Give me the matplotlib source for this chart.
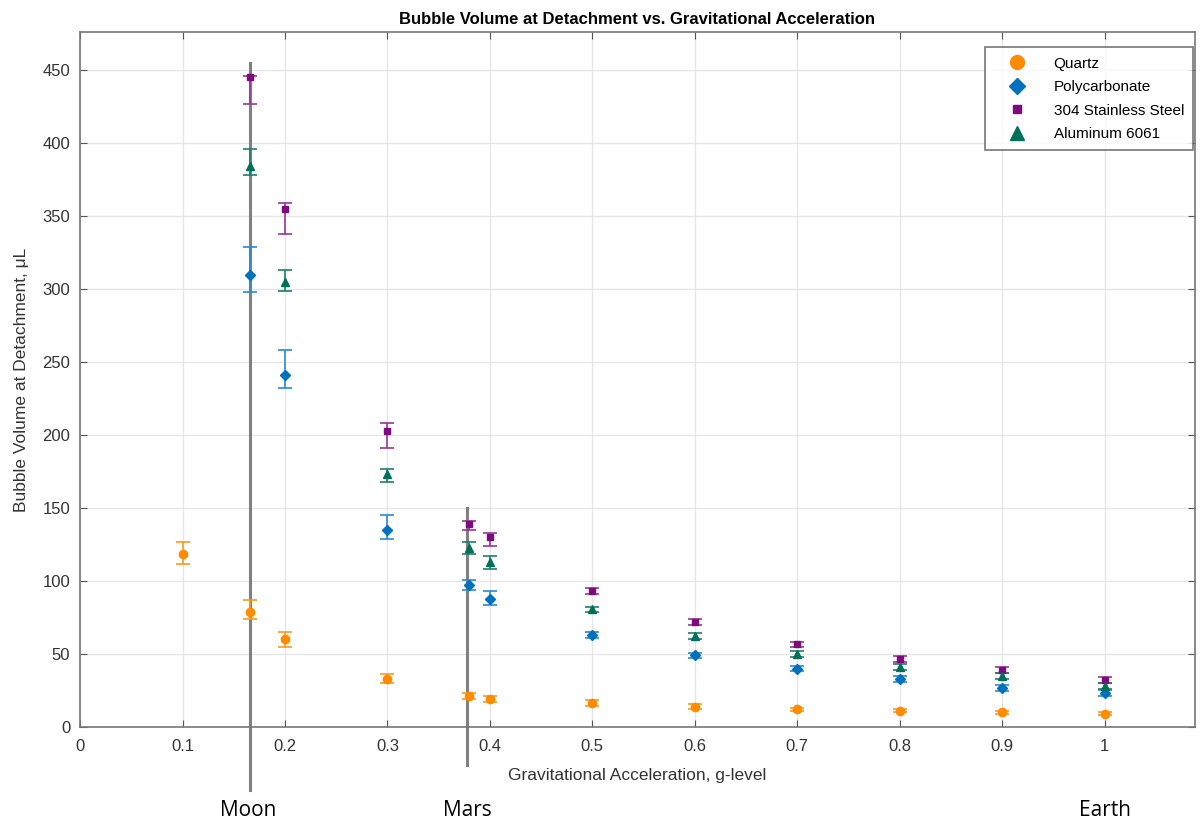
import numpy as np
import matplotlib.pyplot as plt
from matplotlib.lines import Line2D

# g-levels tested
g_level = [0.1, 0.166, 0.2, 0.3, 0.38, 0.4, 0.5, 0.6, 0.7, 0.8, 0.9, 1.0]

# bubble volume (uL) and error bars (lower, upper)
quartz = [118.5, 79, 60, 33, 21, 19, 16.5, 14, 12, 11, 10, 9]
quartz_lo = [7, 5, 5, 3, 2, 2, 2, 1.5, 1, 1, 1, 1]
quartz_hi = [8, 8, 5, 3, 2, 2, 2, 1.5, 1, 1, 1, 1]

g_poly = [0.166, 0.2, 0.3, 0.38, 0.4, 0.5, 0.6, 0.7, 0.8, 0.9, 1.0]
poly = [310, 241, 135, 97, 88, 63, 49, 40, 33, 26.5, 23]
poly_lo = [12, 9, 6, 3, 4.5, 2, 2, 2, 2, 2, 2]
poly_hi = [19, 17, 10, 4, 5, 2, 2, 2, 2, 2, 2]

steel = [445, 355, 203, 139, 130, 93, 72, 56.5, 46.5, 39, 32]
steel_lo = [18, 17, 12, 4, 6, 2, 2, 2, 2, 2, 2]
steel_hi = [1, 4, 5, 2, 3, 2, 2, 2, 2, 2, 2]

alum = [384, 305, 173, 122.5, 113, 80.5, 62.5, 50, 41, 35, 28]
alum_lo = [6, 6, 5, 4, 5, 2, 2, 2, 2, 2, 2]
alum_hi = [12, 8, 4, 4, 4, 2, 2, 2, 2, 2, 2]

names = ['Quartz', 'Polycarbonate', '304 Stainless Steel', 'Aluminum 6061']

plt.rcParams['font.family'] = ['Liberation Sans', 'DejaVu Sans']

fig = plt.figure(figsize=(12.02, 8.26), dpi=100)
ax = fig.add_axes([0.0666, 0.1199, 0.9274, 0.8411])

c_q = '#ff8c00'
c_p = '#0072bd'
c_s = '#7e0a7e'
c_a = '#00705a'

ax.errorbar(g_level, quartz, yerr=[quartz_lo, quartz_hi], fmt='o', color=c_q,
            ecolor='#ff9a1a', ms=6, capsize=5, elinewidth=1.2, capthick=1.2)
ax.errorbar(g_poly, poly, yerr=[poly_lo, poly_hi], fmt='D', color=c_p,
            ecolor='#2a8ad4', ms=5, capsize=5, elinewidth=1.2, capthick=1.2)
ax.errorbar(g_poly, steel, yerr=[steel_lo, steel_hi], fmt='s', color=c_s,
            ecolor='#953895', ms=5, capsize=5, elinewidth=1.2, capthick=1.2)
ax.errorbar(g_poly, alum, yerr=[alum_lo, alum_hi], fmt='^', color=c_a,
            ecolor='#1f7f6a', ms=6, capsize=5, elinewidth=1.2, capthick=1.2)

ax.set_xlim(0, 1.088)
ax.set_ylim(0, 476)
ax.set_xticks(np.arange(0, 1.01, 0.1))
ax.set_xticklabels(['0', '0.1', '0.2', '0.3', '0.4', '0.5', '0.6', '0.7', '0.8', '0.9', '1'])
ax.set_yticks(np.arange(0, 451, 50))
ax.grid(True, color='#e6e6e6', linewidth=1.0)
ax.set_axisbelow(True)
ax.tick_params(direction='in', length=5, colors='#555555', labelcolor='#333333',
               labelsize=12, top=True, right=True)
ax.tick_params(axis='y', pad=7)
ax.tick_params(axis='x', pad=9)
for s in ax.spines.values():
    s.set_color('#777777')
    s.set_linewidth(1.2)

ax.set_title('Bubble Volume at Detachment vs. Gravitational Acceleration',
             fontsize=12, fontweight='bold', pad=6)
ax.set_xlabel('Gravitational Acceleration, g-level', fontsize=12.5, color='#333333', labelpad=10)
ax.set_ylabel('Bubble Volume at Detachment, μL', fontsize=12.5, color='#333333', labelpad=10)

# Moon / Mars reference lines drawn past the axes
ax.plot([0.166, 0.166], [455, -43], color='#808080', lw=2.2, clip_on=False, zorder=1)
ax.plot([0.378, 0.378], [150, -26], color='#808080', lw=2.2, clip_on=False, zorder=1)

for xp, name in [(0.164, 'Moon'), (0.378, 'Mars'), (1.0, 'Earth')]:
    ax.text(xp, -57, name, ha='center', va='center', fontsize=15,
            family='Open Sans', color='black', clip_on=False)

handles = [Line2D([], [], ls='none', marker='o', ms=10, color=c_q),
           Line2D([], [], ls='none', marker='D', ms=8, color=c_p),
           Line2D([], [], ls='none', marker='s', ms=6, color=c_s),
           Line2D([], [], ls='none', marker='^', ms=10, color=c_a)]
leg = ax.legend(handles, names, loc='upper right', fontsize=11, frameon=True, fancybox=False,
                edgecolor='#555555', borderpad=0.6, labelspacing=0.62,
                handlelength=3.0, handletextpad=0.9, borderaxespad=0,
                bbox_to_anchor=(0.9985, 0.978))
leg.get_frame().set_linewidth(1.2)

fig.savefig('out.png', dpi=100)
